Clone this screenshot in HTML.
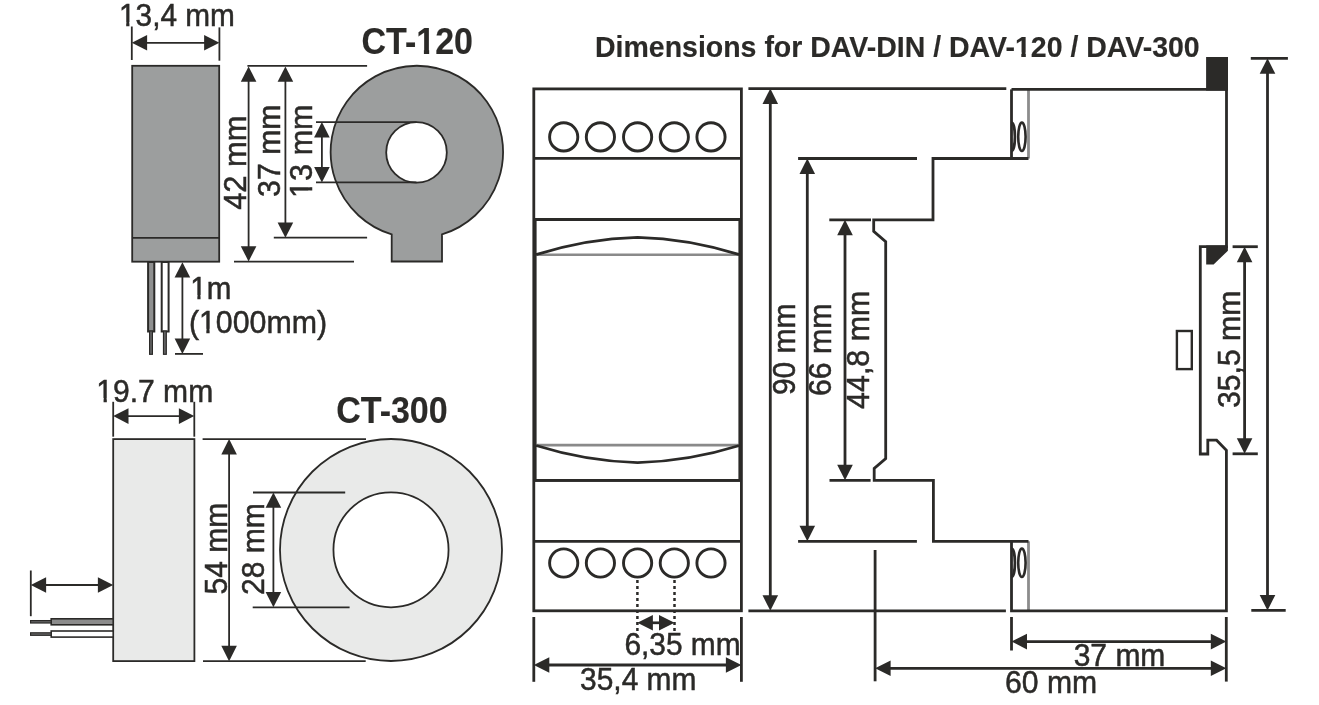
<!DOCTYPE html>
<html><head><meta charset="utf-8"><style>
html,body{margin:0;padding:0;background:#fff;}
svg{display:block;will-change:transform;}
text{font-family:"Liberation Sans",sans-serif;fill:#2b2a28;stroke:#2b2a28;stroke-width:0.5px;}
text[font-weight="bold"]{stroke-width:0.15px;}
</style></head><body>
<svg width="1319" height="705" viewBox="0 0 1319 705">
<rect width="1319" height="705" fill="#fff"/>
<rect x="132.2" y="65.8" width="87" height="195.9" fill="#9c9e9e" stroke="#2b2a28" stroke-width="1.8"/>
<line x1="132.2" y1="237.9" x2="219.2" y2="237.9" stroke="#2b2a28" stroke-width="1.8" />
<rect x="148.1" y="262" width="6.2" height="69.5" fill="#8f9090" stroke="#2b2a28" stroke-width="2"/>
<rect x="161.7" y="262" width="6.9" height="69.5" fill="#fff" stroke="#2b2a28" stroke-width="2"/>
<rect x="149.6" y="331" width="2.8" height="23.3" fill="#666" stroke="#2b2a28" stroke-width="1.2"/>
<rect x="163.5" y="331" width="2.8" height="23.3" fill="#666" stroke="#2b2a28" stroke-width="1.2"/>
<text x="119" y="25.9" font-size="31" font-weight="normal" textLength="115.87" lengthAdjust="spacingAndGlyphs" >13,4 mm</text><g><rect x="120.37" y="22.08" width="5.82" height="5.62" fill="#fff"/><rect x="129.43" y="22.08" width="5.59" height="5.62" fill="#fff"/></g>

<line x1="131.8" y1="26.5" x2="131.8" y2="60.0" stroke="#2b2a28" stroke-width="1.8" />
<line x1="219.4" y1="27.4" x2="219.4" y2="60.7" stroke="#2b2a28" stroke-width="1.8" />
<line x1="145.10000000000002" y1="42.8" x2="206.1" y2="42.8" stroke="#2b2a28" stroke-width="1.8" />
<polygon points="131.80,42.80 147.10,35.00 147.10,50.60" fill="#2b2a28"/>
<polygon points="219.40,42.80 204.10,35.00 204.10,50.60" fill="#2b2a28"/>
<line x1="247.4" y1="65.9" x2="367.1" y2="65.9" stroke="#2b2a28" stroke-width="1.8" />
<line x1="248.6" y1="79.7" x2="248.6" y2="248.2" stroke="#2b2a28" stroke-width="1.8" />
<polygon points="248.60,66.40 240.80,81.70 256.40,81.70" fill="#2b2a28"/>
<polygon points="248.60,261.50 240.80,246.20 256.40,246.20" fill="#2b2a28"/>
<line x1="234" y1="261.6" x2="354" y2="261.6" stroke="#2b2a28" stroke-width="1.8" />
<line x1="285.4" y1="79.7" x2="285.4" y2="224.39999999999998" stroke="#2b2a28" stroke-width="1.8" />
<polygon points="285.40,66.40 277.60,81.70 293.20,81.70" fill="#2b2a28"/>
<polygon points="285.40,237.70 277.60,222.40 293.20,222.40" fill="#2b2a28"/>
<line x1="273.8" y1="237.7" x2="367.1" y2="237.7" stroke="#2b2a28" stroke-width="1.8" />
<path d="M391.7 234.4 A86.2 86.2 0 1 1 442 234.4 L442 261.5 L391.7 261.5 Z" fill="#9c9e9e" stroke="#2b2a28" stroke-width="1.8"/>
<circle cx="416.5" cy="152.4" r="30.3" fill="#fff" stroke="#2b2a28" stroke-width="1.8"/>
<line x1="316" y1="122.1" x2="416.5" y2="122.1" stroke="#2b2a28" stroke-width="1.8" />
<line x1="316" y1="182.4" x2="416.5" y2="182.4" stroke="#2b2a28" stroke-width="1.8" />
<line x1="321.9" y1="135.4" x2="321.9" y2="169.1" stroke="#2b2a28" stroke-width="1.8" />
<polygon points="321.90,122.10 314.10,137.40 329.70,137.40" fill="#2b2a28"/>
<polygon points="321.90,182.40 314.10,167.10 329.70,167.10" fill="#2b2a28"/>
<text transform="translate(246.3,209.8) rotate(-90)" x="0" y="0" font-size="31" textLength="94.34" lengthAdjust="spacingAndGlyphs">42 mm</text>
<text transform="translate(279.5,196.9) rotate(-90)" x="0" y="0" font-size="31" textLength="92.49" lengthAdjust="spacingAndGlyphs">37 mm</text>
<text transform="translate(312.3,197.9) rotate(-90)" x="0" y="0" font-size="31" textLength="93.5" lengthAdjust="spacingAndGlyphs">13 mm</text><g><g transform="translate(312.3,197.9) rotate(-90)"><rect x="1.43" y="-3.82" width="5.97" height="5.62" fill="#fff"/><rect x="10.70" y="-3.82" width="5.73" height="5.62" fill="#fff"/></g></g>

<text x="361.5" y="53.7" font-size="36" font-weight="bold" textLength="111.5" lengthAdjust="spacingAndGlyphs" >CT-120</text><g><rect x="417.50" y="48.53" width="6.40" height="6.97" fill="#fff"/><rect x="429.17" y="48.53" width="5.96" height="6.97" fill="#fff"/></g>

<line x1="182.4" y1="275.6" x2="182.4" y2="340.59999999999997" stroke="#2b2a28" stroke-width="1.8" />
<polygon points="182.40,262.30 174.60,277.60 190.20,277.60" fill="#2b2a28"/>
<polygon points="182.40,353.90 174.60,338.60 190.20,338.60" fill="#2b2a28"/>
<line x1="175" y1="353.9" x2="203" y2="353.9" stroke="#2b2a28" stroke-width="1.8" />
<text x="190.2" y="298.9" font-size="31" font-weight="normal" textLength="41.09" lengthAdjust="spacingAndGlyphs" >1m</text><g><rect x="191.55" y="295.08" width="5.79" height="5.62" fill="#fff"/><rect x="200.55" y="295.08" width="5.55" height="5.62" fill="#fff"/></g>

<text x="188.9" y="332.6" font-size="31" font-weight="normal" textLength="138.17" lengthAdjust="spacingAndGlyphs" >(1000mm)</text><g><rect x="200.40" y="328.78" width="5.92" height="5.62" fill="#fff"/><rect x="209.61" y="328.78" width="5.69" height="5.62" fill="#fff"/></g>

<text x="96.3" y="401.8" font-size="31" font-weight="normal" textLength="116.9" lengthAdjust="spacingAndGlyphs" >19.7 mm</text><g><rect x="97.69" y="397.98" width="5.87" height="5.62" fill="#fff"/><rect x="106.82" y="397.98" width="5.63" height="5.62" fill="#fff"/></g>

<line x1="113.2" y1="401.8" x2="113.2" y2="436.7" stroke="#2b2a28" stroke-width="1.8" />
<line x1="194.3" y1="401.8" x2="194.3" y2="436.7" stroke="#2b2a28" stroke-width="1.8" />
<line x1="126.5" y1="416.1" x2="180.89999999999998" y2="416.1" stroke="#2b2a28" stroke-width="1.8" />
<polygon points="113.20,416.10 128.50,408.30 128.50,423.90" fill="#2b2a28"/>
<polygon points="194.20,416.10 178.90,408.30 178.90,423.90" fill="#2b2a28"/>
<rect x="113.2" y="439.1" width="81.2" height="222" fill="#e9eae9" stroke="#2b2a28" stroke-width="1.8"/>
<line x1="202.6" y1="439.1" x2="366" y2="439.1" stroke="#2b2a28" stroke-width="1.8" />
<line x1="203" y1="661.15" x2="365.7" y2="661.15" stroke="#2b2a28" stroke-width="1.8" />
<line x1="229.1" y1="452.40000000000003" x2="229.1" y2="647.85" stroke="#2b2a28" stroke-width="1.8" />
<polygon points="229.10,439.10 221.30,454.40 236.90,454.40" fill="#2b2a28"/>
<polygon points="229.10,661.15 221.30,645.85 236.90,645.85" fill="#2b2a28"/>
<path d="M391 439 A111 111 0 1 1 391 661 A111 111 0 1 1 391 439 Z M391 492.3 A57.5 57.5 0 1 0 391 607.3 A57.5 57.5 0 1 0 391 492.3 Z" fill="#e9eae9" fill-rule="evenodd" stroke="#2b2a28" stroke-width="1.8"/>
<line x1="253" y1="492.5" x2="345.2" y2="492.5" stroke="#2b2a28" stroke-width="1.8" />
<line x1="252.7" y1="607.3" x2="349.6" y2="607.3" stroke="#2b2a28" stroke-width="1.8" />
<line x1="273.4" y1="505.8" x2="273.4" y2="594.0" stroke="#2b2a28" stroke-width="1.8" />
<polygon points="273.40,492.50 265.60,507.80 281.20,507.80" fill="#2b2a28"/>
<polygon points="273.40,607.30 265.60,592.00 281.20,592.00" fill="#2b2a28"/>
<text transform="translate(227.3,594.5) rotate(-90)" x="0" y="0" font-size="31" textLength="91.87" lengthAdjust="spacingAndGlyphs">54 mm</text>
<text transform="translate(264.2,594.9) rotate(-90)" x="0" y="0" font-size="31" textLength="91.63" lengthAdjust="spacingAndGlyphs">28 mm</text>
<text x="336.2" y="422.7" font-size="36" font-weight="bold" textLength="111.5" lengthAdjust="spacingAndGlyphs" >CT-300</text>
<line x1="30.8" y1="570.5" x2="30.8" y2="616.2" stroke="#2b2a28" stroke-width="1.8" />
<line x1="44.1" y1="585" x2="99.9" y2="585" stroke="#2b2a28" stroke-width="1.8" />
<polygon points="30.80,585.00 46.10,577.20 46.10,592.80" fill="#2b2a28"/>
<polygon points="113.20,585.00 97.90,577.20 97.90,592.80" fill="#2b2a28"/>
<rect x="51.2" y="618.8" width="62" height="6" fill="#8c8c8c" stroke="#2b2a28" stroke-width="1.6"/>
<rect x="51.2" y="631" width="62" height="6.1" fill="#fff" stroke="#2b2a28" stroke-width="1.6"/>
<rect x="30.6" y="620.6" width="20.6" height="2.4" fill="#666" stroke="#2b2a28" stroke-width="1.2"/>
<rect x="30.6" y="632.8" width="20.6" height="2.5" fill="#666" stroke="#2b2a28" stroke-width="1.2"/>
<text x="595" y="56.7" font-size="29.5" font-weight="bold" textLength="604.71" lengthAdjust="spacingAndGlyphs" >Dimensions for DAV-DIN / DAV-120 / DAV-300</text><g><rect x="1015.85" y="52.19" width="5.46" height="6.31" fill="#fff"/><rect x="1025.82" y="52.19" width="5.10" height="6.31" fill="#fff"/></g>

<rect x="533.8" y="88.9" width="207.6" height="521.9" fill="none" stroke="#2b2a28" stroke-width="2.8"/>
<line x1="533.8" y1="158.4" x2="741.4" y2="158.4" stroke="#2b2a28" stroke-width="2.8" />
<line x1="533.8" y1="219.5" x2="741.4" y2="219.5" stroke="#2b2a28" stroke-width="2.8" />
<line x1="533.8" y1="480.4" x2="741.4" y2="480.4" stroke="#2b2a28" stroke-width="2.8" />
<line x1="533.8" y1="541.4" x2="741.4" y2="541.4" stroke="#2b2a28" stroke-width="2.8" />
<rect x="535.2" y="219.5" width="204.6" height="260.9" fill="none" stroke="#2b2a28" stroke-width="2.8"/>
<line x1="536.5" y1="254.7" x2="738.5" y2="254.7" stroke="#8a8a8a" stroke-width="2.6" />
<line x1="536.5" y1="445.1" x2="738.5" y2="445.1" stroke="#8a8a8a" stroke-width="2.6" />
<path d="M536 254.6 Q586.7 238.55 637.6 237.3 Q688.5 238.55 739.5 254.6" fill="none" stroke="#2b2a28" stroke-width="2.8"/>
<path d="M536 445.5 Q586.7 461.35 637.6 462.6 Q688.5 461.35 739.5 445.5" fill="none" stroke="#2b2a28" stroke-width="2.8"/>
<circle cx="563.7" cy="136.9" r="14.1" fill="none" stroke="#2b2a28" stroke-width="2.9"/>
<circle cx="563.7" cy="563" r="14.1" fill="none" stroke="#2b2a28" stroke-width="2.9"/>
<circle cx="600.4" cy="136.9" r="14.1" fill="none" stroke="#2b2a28" stroke-width="2.9"/>
<circle cx="600.4" cy="563" r="14.1" fill="none" stroke="#2b2a28" stroke-width="2.9"/>
<circle cx="637.6" cy="136.9" r="14.1" fill="none" stroke="#2b2a28" stroke-width="2.9"/>
<circle cx="637.6" cy="563" r="14.1" fill="none" stroke="#2b2a28" stroke-width="2.9"/>
<circle cx="674.3" cy="136.9" r="14.1" fill="none" stroke="#2b2a28" stroke-width="2.9"/>
<circle cx="674.3" cy="563" r="14.1" fill="none" stroke="#2b2a28" stroke-width="2.9"/>
<circle cx="711.0" cy="136.9" r="14.1" fill="none" stroke="#2b2a28" stroke-width="2.9"/>
<circle cx="711.0" cy="563" r="14.1" fill="none" stroke="#2b2a28" stroke-width="2.9"/>
<line x1="637.4" y1="580" x2="637.4" y2="631" stroke="#2b2a28" stroke-width="2.5" stroke-dasharray="3 3"/>
<line x1="674.5" y1="580" x2="674.5" y2="631" stroke="#2b2a28" stroke-width="2.5" stroke-dasharray="3 3"/>
<line x1="650.9" y1="622.8" x2="661.0" y2="622.8" stroke="#2b2a28" stroke-width="2.7" />
<polygon points="637.40,622.80 652.90,615.00 652.90,630.60" fill="#2b2a28"/>
<polygon points="674.50,622.80 659.00,615.00 659.00,630.60" fill="#2b2a28"/>
<text x="624.4" y="655" font-size="31" font-weight="normal" textLength="116.28" lengthAdjust="spacingAndGlyphs" >6,35 mm</text>
<line x1="533.8" y1="617" x2="533.8" y2="681.8" stroke="#2b2a28" stroke-width="2.8" />
<line x1="741.4" y1="617" x2="741.4" y2="681.8" stroke="#2b2a28" stroke-width="2.8" />
<line x1="547.3" y1="665" x2="727.9" y2="665" stroke="#2b2a28" stroke-width="2.8" />
<polygon points="533.80,665.00 549.30,657.20 549.30,672.80" fill="#2b2a28"/>
<polygon points="741.40,665.00 725.90,657.20 725.90,672.80" fill="#2b2a28"/>
<text x="580.1" y="689.7" font-size="31" font-weight="normal" textLength="116.32" lengthAdjust="spacingAndGlyphs" >35,4 mm</text>
<line x1="748.4" y1="88.6" x2="1006.3" y2="88.6" stroke="#2b2a28" stroke-width="2.8" />
<line x1="748.4" y1="610.8" x2="1005.9" y2="610.8" stroke="#2b2a28" stroke-width="2.8" />
<line x1="770.3" y1="102.1" x2="770.3" y2="597.3" stroke="#2b2a28" stroke-width="2.8" />
<polygon points="770.30,88.60 762.50,104.10 778.10,104.10" fill="#2b2a28"/>
<polygon points="770.30,610.80 762.50,595.30 778.10,595.30" fill="#2b2a28"/>
<text transform="translate(795.4,395.1) rotate(-90)" x="0" y="0" font-size="31" textLength="91.63" lengthAdjust="spacingAndGlyphs">90 mm</text>
<line x1="798.1" y1="158.5" x2="917" y2="158.5" stroke="#2b2a28" stroke-width="2.8" />
<line x1="798.1" y1="541.3" x2="916.9" y2="541.3" stroke="#2b2a28" stroke-width="2.8" />
<line x1="807.3" y1="172.0" x2="807.3" y2="527.8" stroke="#2b2a28" stroke-width="2.8" />
<polygon points="807.30,158.50 799.50,174.00 815.10,174.00" fill="#2b2a28"/>
<polygon points="807.30,541.30 799.50,525.80 815.10,525.80" fill="#2b2a28"/>
<text transform="translate(831.1,396.1) rotate(-90)" x="0" y="0" font-size="31" textLength="92.67" lengthAdjust="spacingAndGlyphs">66 mm</text>
<line x1="829.3" y1="219.8" x2="871" y2="219.8" stroke="#2b2a28" stroke-width="2.8" />
<line x1="829.5" y1="480.3" x2="870.6" y2="480.3" stroke="#2b2a28" stroke-width="2.8" />
<line x1="845" y1="233.3" x2="845" y2="466.8" stroke="#2b2a28" stroke-width="2.8" />
<polygon points="845.00,219.80 837.20,235.30 852.80,235.30" fill="#2b2a28"/>
<polygon points="845.00,480.30 837.20,464.80 852.80,464.80" fill="#2b2a28"/>
<text transform="translate(868.9,408.9) rotate(-90)" x="0" y="0" font-size="31" textLength="118.16" lengthAdjust="spacingAndGlyphs">44,8 mm</text>
<line x1="1028.5" y1="89.4" x2="1028.5" y2="158.5" stroke="#8c8c8c" stroke-width="2.8" />
<line x1="1028.5" y1="541.3" x2="1028.5" y2="610.9" stroke="#8c8c8c" stroke-width="2.8" />
<path d="M1011.5 89.4 L1226.5 89.4 L1226.5 246.7 L1200.3 246.7 L1200.3 454 L1207.8 454 L1207.8 440.2 L1216.6 440.2 L1226.4 450.3 L1226.4 610.9 L1011.5 610.9 L1011.5 541.3" fill="none" stroke="#2b2a28" stroke-width="2.8" stroke-linejoin="miter"/>
<path d="M1028.5 541.3 L933.4 541.3 L933.4 480.3 L874.2 480.3 L874.2 468.4 L885.7 458.5 L885.7 241.7 L873.7 231.4 L873.7 219.8 L933 219.8 L933 158.5 L1028.5 158.5" fill="none" stroke="#2b2a28" stroke-width="2.8"/>
<line x1="1011.5" y1="89.4" x2="1011.5" y2="158.5" stroke="#2b2a28" stroke-width="2.8" />
<rect x="1206.1" y="57" width="21.9" height="33.6" fill="#2b2a28"/>
<polygon points="1206.2,245.5 1227.9,245.5 1227.9,250.7 1213.6,264.6 1206.2,264.6" fill="#2b2a28"/>
<rect x="1176.9" y="331" width="14.9" height="38.1" fill="none" stroke="#2b2a28" stroke-width="2.4"/>
<ellipse cx="1021.9" cy="136.8" rx="3.7" ry="14.2" fill="none" stroke="#2b2a28" stroke-width="2.6"/>
<path d="M1011.5 122.60000000000001 A3.4 14.2 0 0 1 1011.5 151.0" fill="none" stroke="#2b2a28" stroke-width="2.7"/>
<ellipse cx="1021.9" cy="562.8" rx="3.7" ry="14.2" fill="none" stroke="#2b2a28" stroke-width="2.6"/>
<path d="M1011.5 548.5999999999999 A3.4 14.2 0 0 1 1011.5 577.0" fill="none" stroke="#2b2a28" stroke-width="2.7"/>
<line x1="1232.6" y1="246.7" x2="1257.8" y2="246.7" stroke="#2b2a28" stroke-width="2.8" />
<line x1="1232.6" y1="453.8" x2="1257.8" y2="453.8" stroke="#2b2a28" stroke-width="2.8" />
<line x1="1244.6" y1="260.2" x2="1244.6" y2="440.3" stroke="#2b2a28" stroke-width="2.8" />
<polygon points="1244.60,246.70 1236.80,262.20 1252.40,262.20" fill="#2b2a28"/>
<polygon points="1244.60,453.80 1236.80,438.30 1252.40,438.30" fill="#2b2a28"/>
<text transform="translate(1239.6,408.0) rotate(-90)" x="0" y="0" font-size="31" textLength="117.4" lengthAdjust="spacingAndGlyphs">35,5 mm</text>
<line x1="1250.8" y1="58.3" x2="1287.9" y2="58.3" stroke="#2b2a28" stroke-width="2.8" />
<line x1="1251.3" y1="610.4" x2="1285.7" y2="610.4" stroke="#2b2a28" stroke-width="2.8" />
<line x1="1267.5" y1="71.8" x2="1267.5" y2="596.9" stroke="#2b2a28" stroke-width="2.8" />
<polygon points="1267.50,58.30 1259.70,73.80 1275.30,73.80" fill="#2b2a28"/>
<polygon points="1267.50,610.40 1259.70,594.90 1275.30,594.90" fill="#2b2a28"/>
<line x1="875.1" y1="550" x2="875.1" y2="681.3" stroke="#2b2a28" stroke-width="2.8" />
<line x1="888.6" y1="668.3" x2="1212.8" y2="668.3" stroke="#2b2a28" stroke-width="2.8" />
<polygon points="875.10,668.30 890.60,660.50 890.60,676.10" fill="#2b2a28"/>
<polygon points="1226.30,668.30 1210.80,660.50 1210.80,676.10" fill="#2b2a28"/>
<text x="1005" y="692.7" font-size="31" font-weight="normal" textLength="92.2" lengthAdjust="spacingAndGlyphs" >60 mm</text>
<line x1="1011.5" y1="617" x2="1011.5" y2="650.5" stroke="#2b2a28" stroke-width="2.8" />
<line x1="1226.3" y1="617" x2="1226.3" y2="681.6" stroke="#2b2a28" stroke-width="2.8" />
<line x1="1025.0" y1="641.6" x2="1212.8" y2="641.6" stroke="#2b2a28" stroke-width="2.8" />
<polygon points="1011.50,641.60 1027.00,633.80 1027.00,649.40" fill="#2b2a28"/>
<polygon points="1226.30,641.60 1210.80,633.80 1210.80,649.40" fill="#2b2a28"/>
<text x="1073.7" y="666.1" font-size="31" font-weight="normal" textLength="91.66" lengthAdjust="spacingAndGlyphs" >37 mm</text>
</svg></body></html>
